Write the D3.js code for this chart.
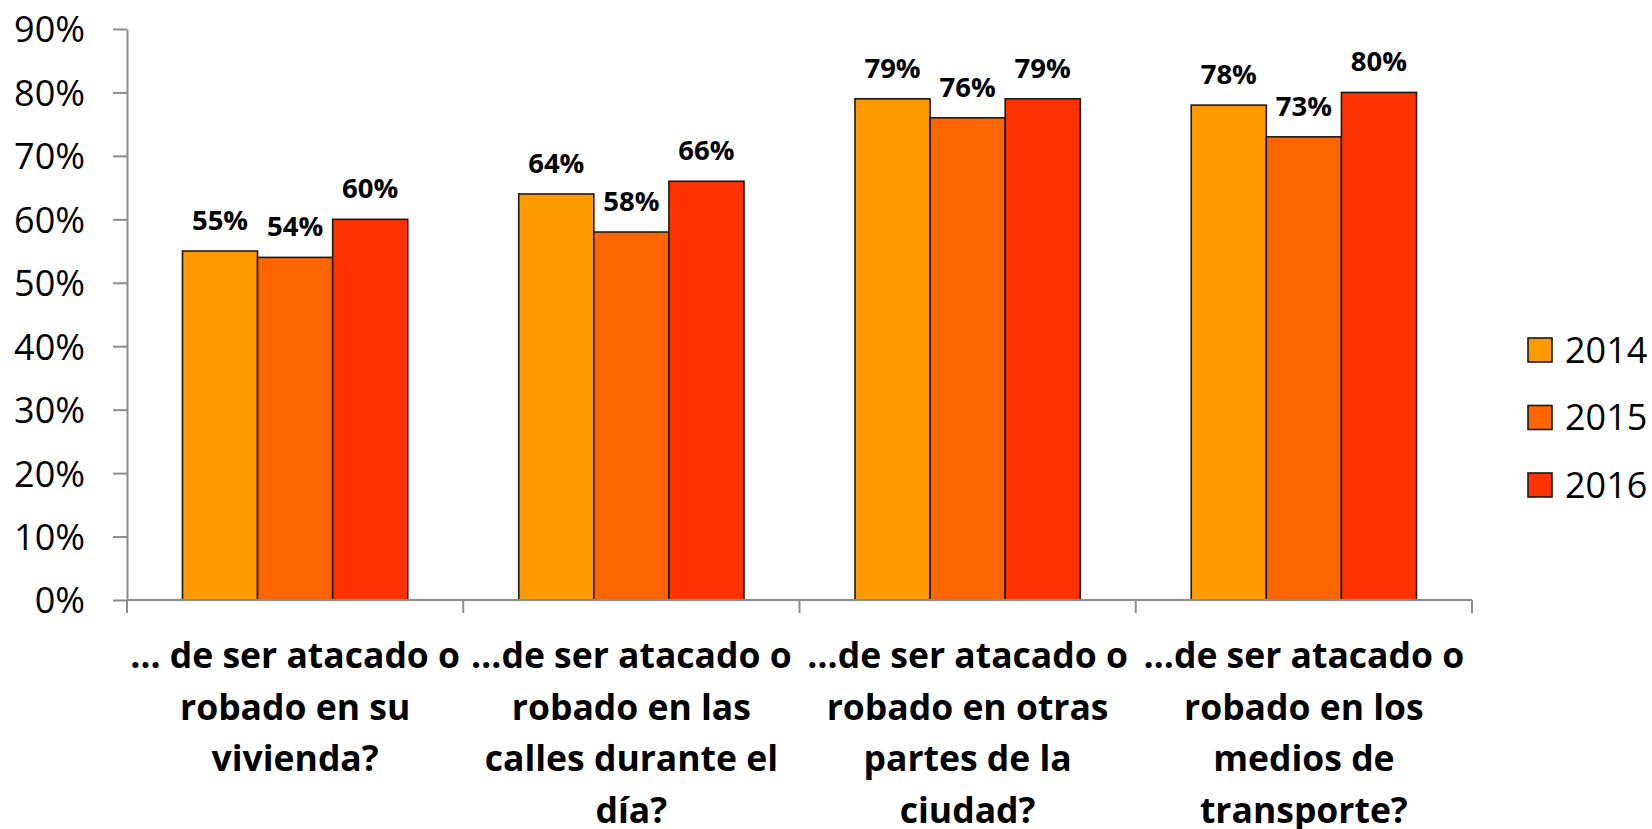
<!DOCTYPE html>
<html>
<head>
<meta charset="utf-8">
<script src="https://cdn.jsdelivr.net/npm/d3@7"></script>
<style>
html,body{margin:0;padding:0;background:#fff;}
svg{display:block;}
text{font-family:"Open Sans","Noto Sans",sans-serif;}
</style>
</head>
<body>
<svg id="chart" width="1652" height="829"></svg>
<script>
const categories = [
  "… de ser atacado o\nrobado en su\nvivienda?",
  "…de ser atacado o\nrobado en las\ncalles durante el\ndía?",
  "…de ser atacado o\nrobado en otras\npartes de la\nciudad?",
  "…de ser atacado o\nrobado en los\nmedios de\ntransporte?"
];
const seriesNames = ["2014", "2015", "2016"];
const values2014 = [0.55, 0.64, 0.79, 0.78];
const values2015 = [0.54, 0.58, 0.76, 0.73];
const values2016 = [0.60, 0.66, 0.79, 0.80];
const colors = ["#FF9900", "#FF6600", "#FF3300"];
const yTicks = [0, 0.1, 0.2, 0.3, 0.4, 0.5, 0.6, 0.7, 0.8, 0.9];

const seriesValues = [values2014, values2015, values2016];
const svg = d3.select("#chart");
const mLeft = 127, mRight = 1472, mTop = 29, mBottom = 600;

const y = d3.scaleLinear().domain([0, 0.9]).range([mBottom, mTop]);
const x0 = d3.scaleBand().domain(d3.range(categories.length)).range([mLeft, mRight]).paddingInner(0).paddingOuter(0);
const groupW = x0.bandwidth() * 0.67;
const x1 = d3.scaleBand().domain(d3.range(seriesNames.length))
  .range([(x0.bandwidth() - groupW) / 2, (x0.bandwidth() + groupW) / 2]);

// Y axis
const yAxis = d3.axisLeft(y).tickValues(yTicks).tickFormat(d3.format(".0%"))
  .tickSize(14).tickSizeOuter(0).tickPadding(28);
const gy = svg.append("g").attr("transform", `translate(${mLeft},0)`).call(yAxis);
gy.select(".domain").attr("stroke", "#8c8c8c").attr("stroke-width", 2);
gy.selectAll(".tick line").attr("stroke", "#8c8c8c").attr("stroke-width", 2);
gy.selectAll(".tick text").attr("font-size", 36).attr("fill", "#000")
  .attr("font-family", "'Open Sans', sans-serif").attr("dy", "0.36em");

// Bars
const groups = svg.append("g").selectAll("g").data(categories).join("g")
  .attr("transform", (d, i) => `translate(${x0(i)},0)`);
groups.each(function (cat, ci) {
  const g = d3.select(this);
  seriesNames.forEach((s, si) => {
    const v = seriesValues[si][ci];
    g.append("rect")
      .attr("x", x1(si)).attr("width", x1.bandwidth())
      .attr("y", y(v)).attr("height", y(0) - y(v))
      .attr("fill", colors[si]).attr("stroke", "#1a1a1a").attr("stroke-width", 1.6);
    g.append("text")
      .attr("x", x1(si) + x1.bandwidth() / 2).attr("y", y(v) - 21)
      .attr("text-anchor", "middle").attr("font-size", 27.5).attr("font-weight", "bold")
      .text(d3.format(".0%")(v));
  });
});

// X axis
const gx = svg.append("g");
gx.append("line").attr("x1", mLeft).attr("x2", mRight).attr("y1", mBottom).attr("y2", mBottom)
  .attr("stroke", "#8c8c8c").attr("stroke-width", 2);
const boundaries = d3.range(categories.length + 1).map(i => i < categories.length ? x0(i) : x0(i - 1) + x0.bandwidth());
gx.selectAll("line.tk").data(boundaries).join("line").attr("class", "tk")
  .attr("x1", d => d).attr("x2", d => d).attr("y1", mBottom).attr("y2", mBottom + 13)
  .attr("stroke", "#8c8c8c").attr("stroke-width", 2);

// Category labels
const lab = svg.append("g").selectAll("text").data(categories).join("text")
  .attr("text-anchor", "middle").attr("font-size", 35.5).attr("font-weight", "bold")
  .attr("x", (d, i) => x0(i) + x0.bandwidth() / 2);
lab.each(function (d, i) {
  const t = d3.select(this);
  d.split("\n").forEach((line, li) => {
    t.append("tspan").attr("x", x0(i) + x0.bandwidth() / 2).attr("y", 668 + li * 51.5).text(line);
  });
});

// Legend
const leg = svg.append("g").selectAll("g").data(seriesNames).join("g")
  .attr("transform", (d, i) => `translate(1528,${350 + i * 67.5})`);
leg.append("rect").attr("x", 0).attr("y", -12).attr("width", 24).attr("height", 24)
  .attr("fill", (d, i) => colors[i]).attr("stroke", "#1a1a1a").attr("stroke-width", 1.6);
leg.append("text").attr("x", 37).attr("y", 0).attr("dy", "0.36em").attr("font-size", 36).text(d => d);
</script>
</body>
</html>
